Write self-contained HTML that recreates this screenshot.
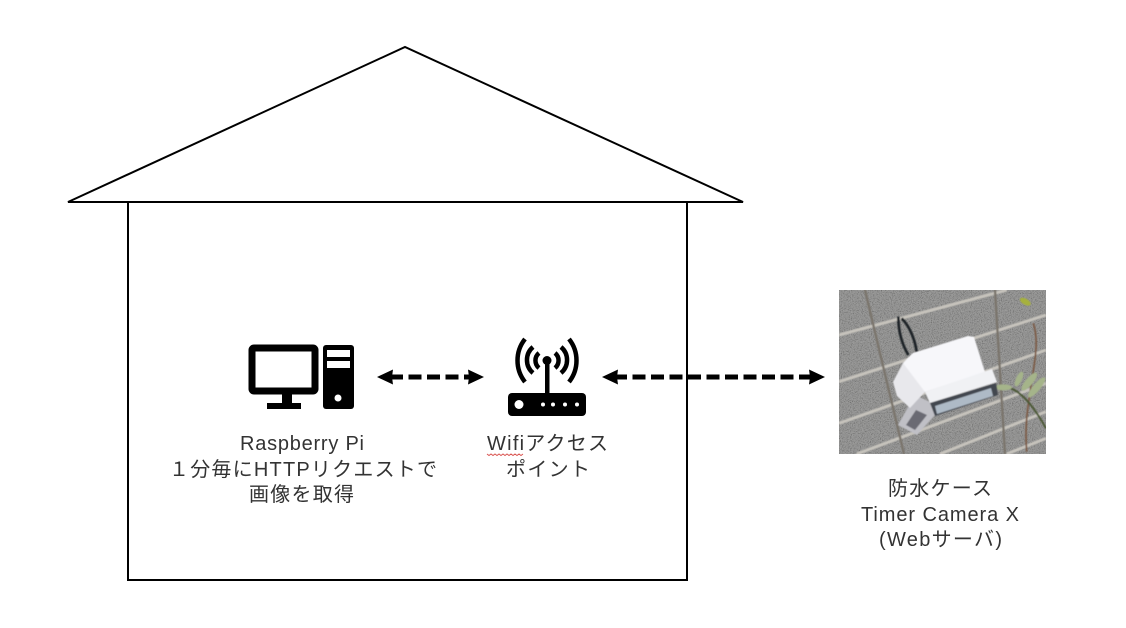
<!DOCTYPE html>
<html><head><meta charset="utf-8">
<style>
html,body{margin:0;padding:0;background:#fff}
svg{display:block}
text{font-family:"Liberation Sans","Noto Sans CJK JP",sans-serif;font-size:20px;fill:#333}
</style></head>
<body>
<svg width="1126" height="628" viewBox="0 0 1126 628" xmlns="http://www.w3.org/2000/svg">
<defs>
<filter id="n" x="0" y="0" width="100%" height="100%">
<feTurbulence type="fractalNoise" baseFrequency="0.3" numOctaves="2" seed="4" result="t"/>
<feColorMatrix in="t" type="matrix" values="2.4 0 0 0 -0.7  2.4 0 0 0 -0.7  2.4 0 0 0 -0.7  0 0 0 0 1"/>
</filter>
<clipPath id="pc"><rect x="839" y="290" width="207" height="164"/></clipPath>
<clipPath id="pc2"><rect x="27" y="30" width="621" height="492"/></clipPath>
<filter id="b" x="-10%" y="-10%" width="120%" height="120%"><feGaussianBlur stdDeviation="1.5"/></filter>
<filter id="b2" x="-10%" y="-10%" width="120%" height="120%"><feGaussianBlur stdDeviation="0.5"/></filter>
</defs>

<!-- house -->
<polygon points="68,202 405,47 743,202" fill="#fff" stroke="#000" stroke-width="2"/>
<rect x="128" y="202" width="559" height="378" fill="#fff" stroke="#000" stroke-width="2"/>

<!-- computer icon -->
<rect x="252" y="348" width="63" height="43" rx="2" fill="#fff" stroke="#000" stroke-width="7"/>
<rect x="282" y="394" width="10" height="10" fill="#000"/>
<rect x="267" y="403" width="34" height="6" fill="#000"/>
<rect x="323" y="345" width="31" height="64" rx="3" fill="#000"/>
<rect x="327" y="350" width="23" height="7" fill="#fff"/>
<rect x="327" y="361" width="23" height="7" fill="#fff"/>
<circle cx="338" cy="398" r="3.500" fill="#fff"/>

<!-- router icon -->
<rect x="508" y="393" width="78" height="23" rx="4" fill="#000"/>
<circle cx="519" cy="404.500" r="4.500" fill="#fff"/>
<circle cx="543" cy="404.500" r="2" fill="#fff"/>
<circle cx="553" cy="404.500" r="2" fill="#fff"/>
<circle cx="565" cy="404.500" r="2" fill="#fff"/>
<circle cx="577" cy="404.500" r="2" fill="#fff"/>
<rect x="545" y="361" width="4.500" height="33" fill="#000"/>
<circle cx="547" cy="360.500" r="4.500" fill="#000"/>
<g fill="none" stroke="#000" stroke-width="4.500">
<path d="M539,353 A9.700,9.700 0 0 0 539,368"/>
<path d="M555,353 A9.700,9.700 0 0 1 555,368"/>
<path d="M533,347 A17,17 0 0 0 533,373"/>
<path d="M561,347 A17,17 0 0 1 561,373"/>
<path d="M525,339 A34.600,34.600 0 0 0 525,382"/>
<path d="M569,339 A34.600,34.600 0 0 1 569,382"/>
</g>

<!-- arrows -->
<g fill="#000">
<polygon points="377,377 393,369.500 392,377 393,384.500"/>
<polygon points="484,377 468,369.500 469,377 468,384.500"/>
<polygon points="602,377 618,369.500 617,377 618,384.500"/>
<polygon points="825,377 809,369.500 810,377 809,384.500"/>
</g>
<line x1="390" y1="377" x2="470" y2="377" stroke="#000" stroke-width="5" stroke-dasharray="13,5.500"/>
<line x1="614" y1="377" x2="812" y2="377" stroke="#000" stroke-width="5" stroke-dasharray="13,5.500"/>

<!-- photo -->
<g clip-path="url(#pc)">
<g transform="translate(830,280) scale(0.33333)">
<g clip-path="url(#pc2)">
<rect x="27" y="30" width="621" height="492" fill="#8a8a89"/>
<rect x="27" y="30" width="621" height="492" filter="url(#n)" opacity=".16"/>
<g filter="url(#b)">
<g stroke="#c6c3bc" stroke-width="9" fill="none">
<line x1="27" y1="165" x2="530" y2="30"/>
<line x1="27" y1="305" x2="648" y2="105"/>
<line x1="27" y1="430" x2="648" y2="210"/>
<line x1="80" y1="522" x2="648" y2="310"/>
<line x1="330" y1="522" x2="648" y2="395"/>
<line x1="530" y1="522" x2="648" y2="475"/>
</g>
<g stroke="#7a756c" stroke-width="7" fill="none">
<line x1="105" y1="30" x2="222" y2="522"/>
<line x1="495" y1="30" x2="525" y2="522"/>
</g>
<g fill="none" stroke="#1e2226" stroke-width="8">
<path d="M205,110 C205,160 220,200 235,225"/>
<path d="M215,115 C240,140 255,180 260,215"/>
</g>
<g fill="none" stroke="#7c5a44" stroke-width="5">
<path d="M610,130 C630,190 610,260 600,340 C590,400 585,450 590,515"/>
</g>
<path d="M500,322 C540,310 590,340 648,445" fill="none" stroke="#4d5a38" stroke-width="6"/>
<g fill="#a5b48a">
<ellipse cx="567" cy="297" rx="9" ry="24" transform="rotate(25 567 297)"/>
<ellipse cx="598" cy="305" rx="11" ry="34" transform="rotate(40 598 305)"/>
<ellipse cx="620" cy="322" rx="11" ry="38" transform="rotate(40 620 322)"/>
<ellipse cx="520" cy="322" rx="26" ry="9"/>
</g>
<ellipse cx="586" cy="65" rx="18" ry="9" fill="#a6b13c" transform="rotate(30 586 65)"/>
</g>
</g>
</g>
<!-- camera case, real coordinates -->
<g filter="url(#b2)">
<polygon points="898,425 915,395 930,402 935,415 917,435" fill="#c0c0c6"/>
<polygon points="906,425 916,410 927,415 915,430" fill="#6a6b73"/>
<polygon points="893,382 903,363 913,353 925,392 922,395 910,408 897,396" fill="#e8e8ec"/>
<polygon points="903,363 913,353 968,336 974,337 985,372 925,392" fill="#f7f7fa"/>
<polygon points="925,392 992,369 997,382 930,403" fill="#f0f1f4"/>
<polygon points="930,403 996,383 998,395 935,416" fill="#43474f"/>
<polygon points="935,406 991,388 993,396 937,414" fill="#aebac6"/>
</g>
</g>

<!-- labels -->
<g text-anchor="start">
<text x="240" y="450" textLength="124" lengthAdjust="spacing">Raspberry Pi</text>
<text x="169" y="476" textLength="268" lengthAdjust="spacing">１分毎にHTTPリクエストで</text>
<text x="249" y="501" textLength="105" lengthAdjust="spacing">画像を取得</text>
<text x="487" y="450" textLength="121" lengthAdjust="spacing">Wifiアクセス</text>
<text x="506" y="476" textLength="84" lengthAdjust="spacing">ポイント</text>
<text x="888" y="495" textLength="104" lengthAdjust="spacing">防水ケース</text>
<text x="861" y="521" textLength="158" lengthAdjust="spacing">Timer Camera X</text>
<text x="879" y="546" textLength="123" lengthAdjust="spacing">(Webサーバ)</text>
</g>
<path d="M487,454 l2,1.500 l2,-1.500 l2,1.500 l2,-1.500 l2,1.500 l2,-1.500 l2,1.500 l2,-1.500 l2,1.500 l2,-1.500 l2,1.500 l2,-1.500 l2,1.500 l2,-1.500 l2,1.500 l2,-1.500 l2,1.500 l2,-1.500" fill="none" stroke="#d9534f" stroke-width="1"/>
</svg>
</body></html>
